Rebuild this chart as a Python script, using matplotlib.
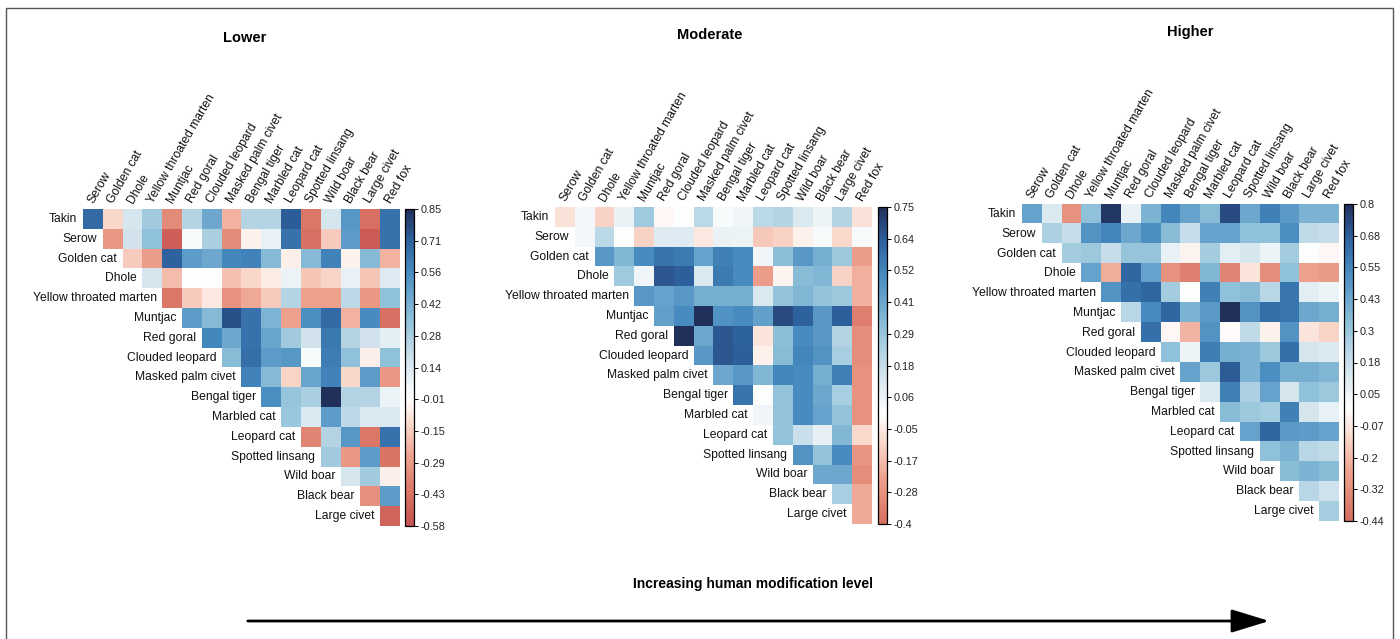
"""
Species co-occurrence correlations across three human modification levels
"""

import numpy as np
import matplotlib.pyplot as plt
from matplotlib.colors import LinearSegmentedColormap, ListedColormap, Normalize
from matplotlib.cm import ScalarMappable
from matplotlib.patches import Rectangle

plt.rcParams['font.family'] = ['Liberation Sans', 'Noto Sans CJK SC', 'DejaVu Sans']

W, H = 1400, 639

row_names = ["Takin", "Serow", "Golden cat", "Dhole", "Yellow throated marten",
             "Muntjac", "Red goral", "Clouded leopard", "Masked palm civet",
             "Bengal tiger", "Marbled cat", "Leopard cat", "Spotted linsang",
             "Wild boar", "Black bear", "Large civet"]
col_names = ["Serow", "Golden cat", "Dhole", "Yellow throated marten", "Muntjac",
             "Red goral", "Clouded leopard", "Masked palm civet", "Bengal tiger",
             "Marbled cat", "Leopard cat", "Spotted linsang", "Wild boar",
             "Black bear", "Large civet", "Red fox"]

# upper triangle, row i starts at column i
lower = [
    [0.68, -0.12, 0.15, 0.30, -0.35, 0.25, 0.45, -0.22, 0.25, 0.25, 0.72, -0.42, 0.15, 0.52, -0.45, 0.65],
    [-0.30, 0.17, 0.35, -0.52, 0.02, 0.28, -0.35, -0.04, 0.08, 0.65, -0.45, -0.15, 0.50, -0.53, 0.65],
    [-0.15, -0.28, 0.70, 0.50, 0.45, 0.58, 0.60, 0.38, -0.05, 0.38, 0.60, -0.04, 0.38, -0.22],
    [0.15, -0.20, 0.00, 0.00, -0.18, -0.12, -0.06, 0.07, -0.17, -0.13, 0.08, -0.17, 0.12],
    [-0.42, -0.15, -0.07, -0.32, -0.25, -0.15, 0.25, -0.27, -0.27, 0.22, -0.30, 0.35],
    [0.50, 0.38, 0.75, 0.65, 0.40, -0.27, 0.55, 0.68, -0.22, 0.57, -0.45],
    [0.58, 0.45, 0.65, 0.47, 0.30, 0.17, 0.63, 0.25, 0.17, 0.10],
    [0.37, 0.67, 0.50, 0.52, 0.02, 0.62, 0.35, -0.05, 0.35],
    [0.60, 0.38, -0.13, 0.47, 0.60, -0.12, 0.50, -0.30],
    [0.55, 0.33, 0.27, 0.85, 0.25, 0.25, 0.07],
    [0.32, 0.13, 0.50, 0.22, 0.13, 0.13],
    [-0.37, 0.25, 0.52, -0.42, 0.65],
    [0.30, -0.30, 0.50, -0.43],
    [0.15, 0.30, -0.05],
    [-0.33, 0.50],
    [-0.50],
]

moderate = [
    [-0.08, 0.04, -0.12, 0.07, 0.27, -0.02, 0.00, 0.20, 0.02, 0.05, 0.20, 0.22, 0.12, 0.06, 0.22, -0.08],
    [0.04, 0.20, 0.01, -0.12, 0.10, 0.10, -0.06, 0.07, 0.06, -0.14, -0.12, -0.04, 0.03, -0.10, 0.03],
    [0.45, 0.35, 0.50, 0.57, 0.55, 0.42, 0.53, 0.50, 0.05, 0.32, 0.45, 0.38, 0.28, -0.25],
    [0.27, 0.05, 0.65, 0.63, 0.12, 0.55, 0.50, -0.25, -0.03, 0.33, 0.35, -0.12, -0.20],
    [0.45, 0.42, 0.45, 0.38, 0.38, 0.38, 0.12, 0.30, 0.35, 0.30, 0.28, -0.20],
    [0.43, 0.50, 0.75, 0.48, 0.50, 0.43, 0.68, 0.62, 0.45, 0.63, -0.35],
    [0.75, 0.40, 0.65, 0.62, -0.07, 0.32, 0.50, 0.45, 0.22, -0.30],
    [0.45, 0.65, 0.63, -0.04, 0.33, 0.52, 0.47, 0.25, -0.30],
    [0.40, 0.45, 0.35, 0.52, 0.50, 0.38, 0.53, -0.28],
    [0.57, 0.01, 0.30, 0.50, 0.40, 0.25, -0.28],
    [0.05, 0.30, 0.50, 0.42, 0.30, -0.28],
    [0.30, 0.17, 0.08, 0.35, -0.10],
    [0.47, 0.30, 0.50, -0.27],
    [0.40, 0.40, -0.30],
    [0.25, -0.22],
    [-0.22],
]

higher = [
    [0.45, 0.12, -0.30, 0.33, 0.78, 0.08, 0.38, 0.55, 0.45, 0.35, 0.72, 0.43, 0.57, 0.48, 0.38, 0.38],
    [0.25, 0.18, 0.50, 0.55, 0.43, 0.52, 0.35, 0.18, 0.45, 0.45, 0.33, 0.33, 0.52, 0.20, 0.18],
    [0.28, 0.30, 0.18, 0.32, 0.32, 0.08, -0.03, 0.28, 0.10, 0.14, 0.06, 0.28, 0.01, -0.02],
    [0.45, -0.22, 0.65, 0.45, -0.30, -0.37, 0.37, -0.35, -0.08, -0.32, 0.33, -0.25, -0.27],
    [0.50, 0.62, 0.65, 0.28, 0.01, 0.57, 0.33, 0.35, 0.22, 0.60, 0.10, 0.06],
    [0.22, 0.53, 0.65, 0.38, 0.48, 0.80, 0.50, 0.62, 0.60, 0.43, 0.40],
    [0.62, -0.02, -0.20, 0.50, -0.01, 0.20, -0.04, 0.50, -0.08, -0.12],
    [0.33, 0.06, 0.58, 0.40, 0.38, 0.30, 0.62, 0.15, 0.12],
    [0.45, 0.30, 0.68, 0.38, 0.52, 0.40, 0.40, 0.37],
    [0.13, 0.57, 0.25, 0.45, 0.15, 0.33, 0.30],
    [0.35, 0.30, 0.27, 0.57, 0.15, 0.08],
    [0.45, 0.65, 0.48, 0.47, 0.45],
    [0.33, 0.38, 0.22, 0.20],
    [0.35, 0.38, 0.35],
    [0.22, 0.17],
    [0.27],
]

titles = ["Lower", "Moderate", "Higher"]
ranges = [(-0.58, 0.85), (-0.4, 0.75), (-0.44, 0.8)]
cbar_labels = [
    ["-0.58", "-0.43", "-0.29", "-0.15", "-0.01", "0.14", "0.28", "0.42", "0.56", "0.71", "0.85"],
    ["-0.4", "-0.28", "-0.17", "-0.05", "0.06", "0.18", "0.29", "0.41", "0.52", "0.64", "0.75"],
    ["-0.44", "-0.32", "-0.2", "-0.07", "0.05", "0.18", "0.3", "0.43", "0.55", "0.68", "0.8"],
]

# pixel layout: heatmap box (x, y, size), colorbar x, title pos
heat_pos = [(83, 209, 317), (555, 207, 317), (1022, 204, 317)]
cbar_x = [405, 878, 1344]
title_pos = [(245, 38), (710, 35), (1190, 32)]

base = LinearSegmentedColormap.from_list("corr", [
    (0.0, (0.62, 0.10, 0.16)),
    (0.16, (0.78, 0.32, 0.31)),
    (0.24, (0.85, 0.45, 0.39)),
    (0.34, (0.93, 0.63, 0.55)),
    (0.43, (0.98, 0.85, 0.80)),
    (0.5, (1.0, 1.0, 1.0)),
    (0.6, (0.82, 0.89, 0.93)),
    (0.7, (0.58, 0.77, 0.86)),
    (0.84, (0.27, 0.54, 0.75)),
    (0.92, (0.18, 0.38, 0.62)),
    (1.0, (0.13, 0.19, 0.36)),
])


def panel_cmap(vmin, vmax):
    # symmetric around zero, colour bar shows only the used range
    lim = max(abs(vmin), abs(vmax))
    v = np.linspace(vmin, vmax, 256)
    return ListedColormap(base(0.5 + 0.5 * v / lim))


def px_axes(fig, x, y, w, h):
    return fig.add_axes([x / W, 1 - (y + h) / H, w / W, h / H])


fig = plt.figure(figsize=(W / 100, H / 100), dpi=100)

over = fig.add_axes([0, 0, 1, 1])
over.set_xlim(0, W)
over.set_ylim(H, 0)
over.axis("off")
over.add_patch(Rectangle((6, 8), 1387, 700, fill=False, ec="#555555", lw=1))

for k, rows in enumerate([lower, moderate, higher]):
    n = len(row_names)
    M = np.full((n, n), np.nan)
    for i, r in enumerate(rows):
        M[i, i:] = r
    vmin, vmax = ranges[k]
    cmap = panel_cmap(vmin, vmax)
    cmap.set_bad((1, 1, 1, 0))
    norm = Normalize(vmin, vmax)

    x0, y0, s = heat_pos[k]
    ax = px_axes(fig, x0, y0, s, s)
    ax.imshow(np.ma.masked_invalid(M), cmap=cmap, norm=norm, aspect="auto",
              interpolation="nearest", extent=(-0.5, n - 0.5, n - 0.5, -0.5))
    ax.set_xlim(-0.5, n - 0.5)
    ax.set_ylim(n - 0.5, -0.5)
    ax.axis("off")

    for i, name in enumerate(row_names):
        ax.text(i - 0.78, i, name, ha="right", va="center", fontsize=8.7,
                color="#111111", clip_on=False)
    for j, name in enumerate(col_names):
        ax.text(j - 0.1, -0.85, name, rotation=60, rotation_mode="anchor",
                ha="left", va="center", fontsize=8.7, color="#111111", clip_on=False)

    cax = px_axes(fig, cbar_x[k], y0, 9, s)
    cb = fig.colorbar(ScalarMappable(norm=norm, cmap=cmap), cax=cax)
    cb.set_ticks(np.linspace(vmin, vmax, 11))
    cb.set_ticklabels(cbar_labels[k])
    cb.ax.tick_params(length=3, width=0.7, labelsize=7.8, pad=1.5, labelcolor="#222222")
    cb.outline.set_linewidth(0.9)

    tx, ty = title_pos[k]
    over.text(tx, ty, titles[k], ha="center", va="center", fontsize=10.5,
              fontweight="bold")

# stray glyph next to the Spotted linsang label in the first panel
over.text(326, 455, "是", ha="center", va="center", fontsize=8.5, color="#4a5866",
          family=["Noto Sans CJK SC", "DejaVu Sans"])

over.text(753, 584, "Increasing human modification level", ha="center", va="center",
          fontsize=10, fontweight="bold")
over.annotate("", xy=(1272, 621), xytext=(245, 621),
              arrowprops=dict(arrowstyle="-|>,head_length=1.3,head_width=0.4",
                              lw=2, color="black", mutation_scale=18))

fig.savefig("out.png", dpi=100)
